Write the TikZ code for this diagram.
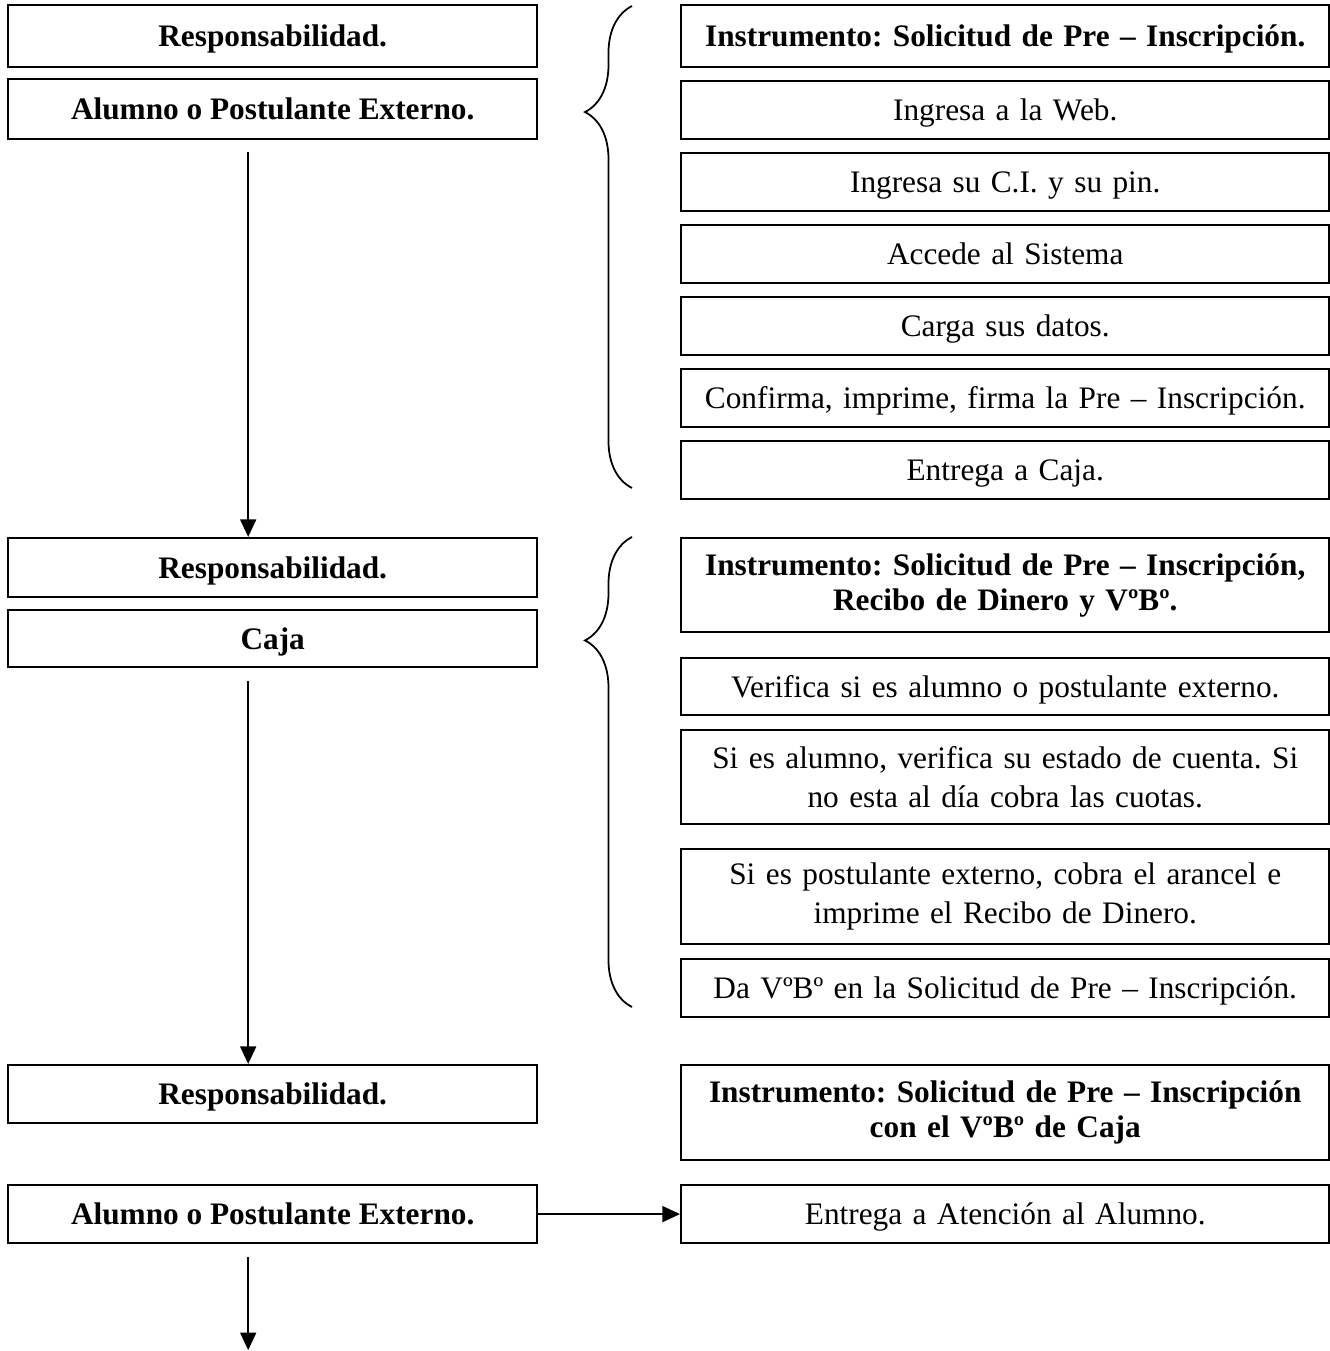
\documentclass[tikz,border=0pt]{standalone}
\usepackage{fontspec}
\setmainfont{Liberation Serif}
\usetikzlibrary{positioning,arrows.meta,decorations.pathreplacing}

\begin{document}
\frenchspacing
\begin{tikzpicture}[x=0.01cm, y=-0.01cm,
    caja/.style={draw, line width=0.6pt, anchor=north west, inner sep=0pt, align=center,
      text height=7.2pt, text depth=1.2pt, font=\fontsize{8.9}{11}\selectfont},
    izq/.style={caja, minimum width=5.29cm, font=\fontsize{8.9}{11}\selectfont\bfseries},
    der/.style={caja, minimum width=6.48cm, text width=6.4cm},
    doble/.style={text height={}, text depth={}},
    flecha/.style={-{Triangle[length=5pt,width=4.5pt]}, line width=0.6pt},
    llave/.style={decorate, decoration={brace, amplitude=0.47cm, aspect=0.78}, line width=0.5pt}
  ]
\useasboundingbox (0,0) rectangle (1330,1351);

% Primera etapa
\node[izq, minimum height=0.62cm] (resp1) at (7,4) {Responsabilidad.};
\node[izq, minimum height=0.60cm] (al1) at (7,78) {Alumno o Postulante Externo.};

\node[der, minimum height=0.62cm, font=\fontsize{8.9}{11}\selectfont\bfseries] (ins1) at (680,4) {Instrumento: Solicitud de Pre – Inscripción.};
\node[der, minimum height=0.58cm] (web) at (680,80) {Ingresa a la Web.};
\node[der, minimum height=0.58cm] (ci) at (680,152) {Ingresa su C.I. y su pin.};
\node[der, minimum height=0.58cm] (acc) at (680,224) {Accede al Sistema};
\node[der, minimum height=0.58cm] (carga) at (680,296) {Carga sus datos.};
\node[der, minimum height=0.58cm] (conf) at (680,368) {Confirma, imprime, firma la Pre – Inscripción.};
\node[der, minimum height=0.58cm] (ent1) at (680,440) {Entrega a Caja.};

\coordinate (ll1a) at (632,488);
\coordinate (ll1b) at (632,6);
\draw[llave] (ll1a) -- (ll1b);

% Segunda etapa
\node[izq, minimum height=0.59cm] (resp2) at (7,537) {Responsabilidad.};
\node[izq, minimum height=0.57cm] (caja) at (7,609) {Caja};

\node[der, doble, minimum height=0.94cm, font=\fontsize{8.9}{10}\selectfont\bfseries] (ins2) at (680,537) {Instrumento: Solicitud de Pre – Inscripción,\\ Recibo de Dinero y VºBº.};
\node[der, minimum height=0.57cm] (ver) at (680,657) {Verifica si es alumno o postulante externo.};
\node[der, doble, minimum height=0.94cm] (sial) at (680,729) {Si es alumno, verifica su estado de cuenta. Si\\ no esta al día cobra las cuotas.};
\node[der, doble, minimum height=0.95cm] (sipo) at (680,848) {Si es postulante externo, cobra el arancel e\\ imprime el Recibo de Dinero.};
\node[der, minimum height=0.58cm] (vobo) at (680,958) {Da VºBº en la Solicitud de Pre – Inscripción.};

\coordinate (ll2a) at (632,1007);
\coordinate (ll2b) at (632,537);
\draw[llave] (ll2a) -- (ll2b);

% Tercera etapa
\node[izq, minimum height=0.58cm] (resp3) at (7,1064) {Responsabilidad.};
\node[izq, minimum height=0.58cm] (al3) at (7,1184) {Alumno o Postulante Externo.};

\node[der, doble, minimum height=0.95cm, font=\fontsize{8.9}{10}\selectfont\bfseries] (ins3) at (680,1064) {Instrumento: Solicitud de Pre – Inscripción\\ con el VºBº de Caja};
\node[der, minimum height=0.58cm] (aten) at (680,1184) {Entrega a Atención al Alumno.};

% Flechas
\coordinate[below=1.06cm of al3.south, xshift=-0.245cm] (fin);
\draw[flecha, shorten <=0.12cm] ([xshift=-0.245cm]al1.south) -- ([xshift=-0.245cm]resp2.north);
\draw[flecha, shorten <=0.13cm] ([xshift=-0.245cm]caja.south) -- ([xshift=-0.245cm]resp3.north);
\draw[flecha] (al3.east) -- (aten.west);
\draw[flecha, shorten <=0.13cm] ([xshift=-0.245cm]al3.south) -- (fin);

\end{tikzpicture}
\end{document}
